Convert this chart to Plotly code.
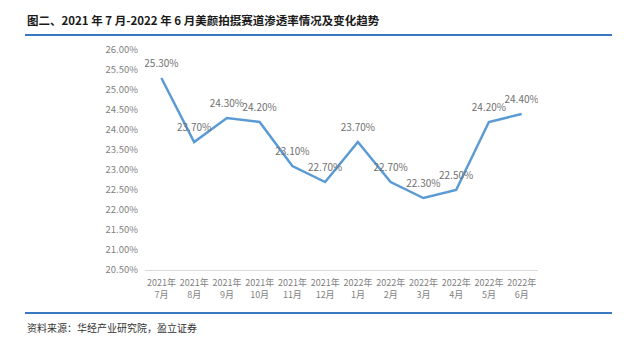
import plotly.graph_objects as go

months = ["2021年<br>7月", "2021年<br>8月", "2021年<br>9月", "2021年<br>10月", "2021年<br>11月", "2021年<br>12月",
          "2022年<br>1月", "2022年<br>2月", "2022年<br>3月", "2022年<br>4月", "2022年<br>5月", "2022年<br>6月"]
penetration = [0.253, 0.237, 0.243, 0.242, 0.231, 0.227, 0.237, 0.227, 0.223, 0.225, 0.242, 0.244]
title_text = "图二、2021 年 7 月-2022 年 6 月美颜拍摄赛道渗透率情况及变化趋势"
source_text = "资料来源：华经产业研究院，盈立证券"

FONT = "Noto Sans CJK SC"
L, R, T, B = 145, 98, 50, 73
W, H = 636, 343
pw, ph = W - L - R, H - T - B

def px(x):
    return (x - L) / pw

def py(y):
    return (H - B - y) / ph

fig = go.Figure()
fig.add_trace(go.Scatter(
    x=months, y=penetration, mode="lines+markers+text",
    line=dict(color="#5b9bd5", width=2.5),
    marker=dict(size=12, opacity=0),
    text=[f"{v*100:.2f}%" for v in penetration],
    textposition="top center",
    textfont=dict(family=FONT, size=10, color="#707070"),
    hoverinfo="skip",
))

fig.update_layout(
    width=W, height=H,
    margin=dict(l=L, r=R, t=T, b=B),
    paper_bgcolor="white", plot_bgcolor="white",
    showlegend=False,
    xaxis=dict(showgrid=False, showline=True, linecolor="#d9d9d9", linewidth=1,
               range=[-0.5, len(months) - 0.5],
               ticks="", tickangle=0, ticklabelstandoff=4,
               tickfont=dict(family=FONT, size=9, color="#7f7f7f")),
    yaxis=dict(range=[0.205, 0.26], dtick=0.005, tickformat=".2%", showgrid=False,
               showline=False, zeroline=False, ticks="", ticklabelstandoff=6,
               tickfont=dict(family=FONT, size=9.5, color="#7f7f7f")),
    annotations=[
        dict(text=f"<b>{title_text}</b>", xref="paper", yref="paper", x=px(25), y=py(20),
             xanchor="left", yanchor="middle", showarrow=False,
             font=dict(family=FONT, size=11.5, color="#1a1a1a")),
        dict(text=source_text, xref="paper", yref="paper", x=px(25), y=py(327),
             xanchor="left", yanchor="middle", showarrow=False,
             font=dict(family=FONT, size=10, color="#333333")),
    ],
    shapes=[
        dict(type="line", xref="paper", yref="paper", x0=px(25), x1=px(612), y0=py(35), y1=py(35),
             line=dict(color="#3a78c2", width=2)),
        dict(type="line", xref="paper", yref="paper", x0=px(25), x1=px(612), y0=py(313), y1=py(313),
             line=dict(color="#3a78c2", width=2)),
    ],
)

fig.write_html("out.html")
